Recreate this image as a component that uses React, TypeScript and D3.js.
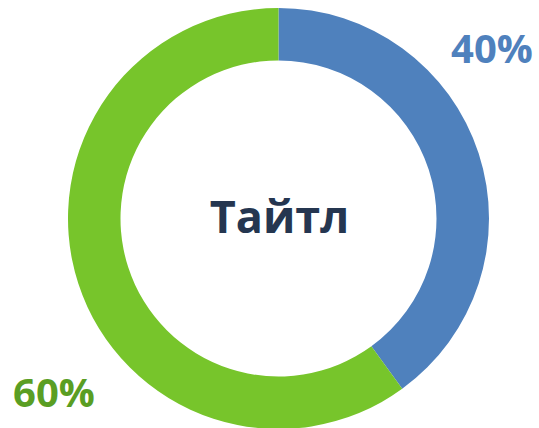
import React from "react";
import * as d3 from "d3";

const categories = ["A", "B"];
const values = [40, 60];
const colors = ["#4F81BD", "#77C52B"];
const labelTexts = ["40%", "60%"];
const labelColors = ["#4F81BD", "#5A9E23"];
const title = "Тайтл";

export default function App() {
  const W = 539, H = 428;
  const cx = 278.5, cy = 218.5;
  const outer = 210.5, inner = 158;
  const pie = d3.pie<number>().sort(null).value((d) => d)(values);
  const arc = d3.arc<d3.PieArcDatum<number>>().innerRadius(inner).outerRadius(outer);
  return (
    <svg width={W} height={H} style={{ position: "absolute", left: 0, top: 0 }}>
      <rect width={W} height={H} fill="#fff" />
      <g transform={`translate(${cx},${cy})`}>
        {pie.map((p, i) => (
          <path key={categories[i]} d={arc(p) as string} fill={colors[i]} />
        ))}
      </g>
      <text x={492} y={63} textAnchor="middle" fontFamily="'Open Sans', sans-serif" fontWeight="bold" fontSize={40} fill={labelColors[0]}>
        {labelTexts[0]}
      </text>
      <text x={54} y={407} textAnchor="middle" fontFamily="'Open Sans', sans-serif" fontWeight="bold" fontSize={40} fill={labelColors[1]}>
        {labelTexts[1]}
      </text>
      <text x={279.5} y={233} textAnchor="middle" fontFamily="'Open Sans', sans-serif" fontWeight="bold" fontSize={45} fill="#253650">
        {title}
      </text>
    </svg>
  );
}
